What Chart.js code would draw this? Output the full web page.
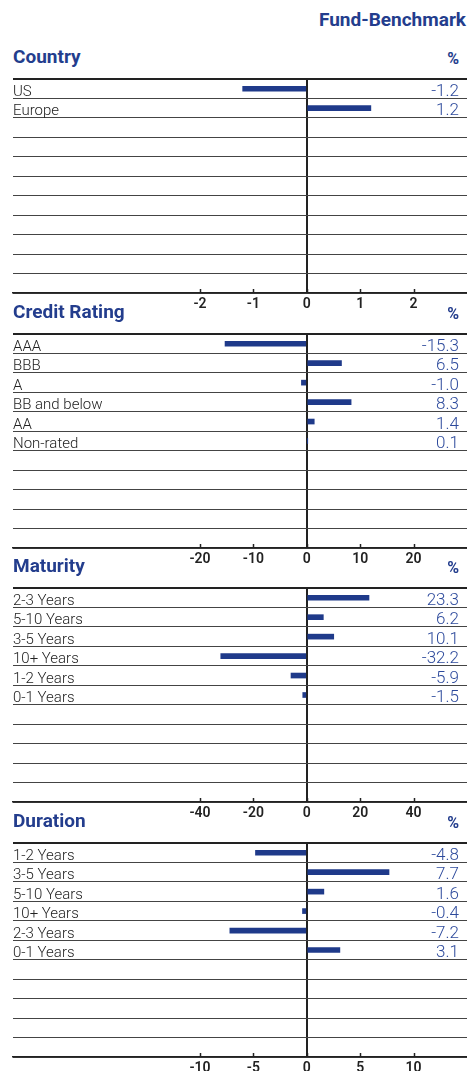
<!DOCTYPE html>
<html>
<head>
<meta charset="utf-8">
<script src="https://cdn.jsdelivr.net/npm/chart.js@4/dist/chart.umd.min.js"></script>
<style>
  html, body { margin: 0; padding: 0; background: #fff; }
  body { width: 470px; height: 1071px; overflow: hidden; position: relative; font-family: Roboto, "Noto Sans", sans-serif; }
  .head { position: absolute; color: #233d8d; font-weight: 700; line-height: 19px; white-space: nowrap; }
  .title { left: 13px; font-size: 19px; }
  .pct { right: 11px; font-size: 16px; }
  .fb { right: 4px; top: 10px; font-size: 19px; }
  canvas { position: absolute; left: 0; }
</style>
</head>
<body>
<div class="head fb">Fund-Benchmark</div>

<script>
// Panel data: Fund minus Benchmark, in %
const ROWS = 11;

const countryLabels = ['US', 'Europe'];
const countryValues = [-1.2, 1.2];
const countryTicks = [-2, -1, 0, 1, 2];

const creditLabels = ['AAA', 'BBB', 'A', 'BB and below', 'AA', 'Non-rated'];
const creditValues = [-15.3, 6.5, -1.0, 8.3, 1.4, 0.1];
const creditTicks = [-20, -10, 0, 10, 20];

const maturityLabels = ['2-3 Years', '5-10 Years', '3-5 Years', '10+ Years', '1-2 Years', '0-1 Years'];
const maturityValues = [23.3, 6.2, 10.1, -32.2, -5.9, -1.5];
const maturityTicks = [-40, -20, 0, 20, 40];

const durationLabels = ['1-2 Years', '3-5 Years', '5-10 Years', '10+ Years', '2-3 Years', '0-1 Years'];
const durationValues = [-4.8, 7.7, 1.6, -0.4, -7.2, 3.1];
const durationTicks = [-10, -5, 0, 5, 10];

const panels = [
  { title: 'Country', labels: countryLabels, values: countryValues, ticks: countryTicks },
  { title: 'Credit Rating', labels: creditLabels, values: creditValues, ticks: creditTicks },
  { title: 'Maturity', labels: maturityLabels, values: maturityValues, ticks: maturityTicks },
  { title: 'Duration', labels: durationLabels, values: durationValues, ticks: durationTicks }
];

const NAVY = '#1f3a8a';
const FONT = 'Roboto, "Noto Sans", sans-serif';

// Row labels on the left, values on the right, small tick marks on the axis
const rowTextPlugin = {
  id: 'rowText',
  afterDraw(chart) {
    const ctx = chart.ctx;
    const area = chart.chartArea;
    const y = chart.scales.y;
    const x = chart.scales.x;
    const p = chart.options.plugins.rowText;

    ctx.save();
    ctx.textBaseline = 'alphabetic';
    p.labels.forEach((label, i) => {
      const py = y.getPixelForValue(i) + 7;
      ctx.font = '300 15px ' + FONT;
      ctx.fillStyle = '#222';
      ctx.textAlign = 'left';
      ctx.fillText(label, area.left, py);
      if (p.values[i] != null) {
        ctx.font = '300 17px ' + FONT;
        ctx.fillStyle = '#2d4a9c';
        ctx.textAlign = 'right';
        ctx.fillText(p.values[i].toFixed(1), area.right - 8, py);
      }
    });

    ctx.strokeStyle = '#222';
    ctx.lineWidth = 1.5;
    x.ticks.forEach(t => {
      const px = Math.round(x.getPixelForValue(t.value)) + 0.5;
      ctx.beginPath();
      ctx.moveTo(px, area.bottom);
      ctx.lineTo(px, area.bottom - 4);
      ctx.stroke();
    });
    ctx.restore();
  }
};

function createPanel(panel, index) {
  const top = Math.round(79 + index * 254.5);

  const title = document.createElement('div');
  title.className = 'head title';
  title.style.top = (top - 32) + 'px';
  title.textContent = panel.title;
  document.body.appendChild(title);

  const pct = document.createElement('div');
  pct.className = 'head pct';
  pct.style.top = (top - 30) + 'px';
  pct.textContent = '%';
  document.body.appendChild(pct);

  const canvas = document.createElement('canvas');
  canvas.width = 470;
  canvas.height = 250;
  canvas.style.top = (top - 10) + 'px';
  document.body.appendChild(canvas);

  const rowLabels = [];
  const rowValues = [];
  for (let i = 0; i < ROWS; i++) {
    rowLabels.push(panel.labels[i] || '');
    rowValues.push(i < panel.values.length ? panel.values[i] : null);
  }

  const step = panel.ticks[1] - panel.ticks[0];

  return new Chart(canvas, {
    type: 'bar',
    data: {
      labels: rowLabels,
      datasets: [{
        data: rowValues,
        backgroundColor: NAVY,
        barThickness: 5
      }]
    },
    options: {
      indexAxis: 'y',
      responsive: false,
      animation: false,
      devicePixelRatio: 1,
      layout: { padding: { left: 13, right: 3, top: 10, bottom: 0 } },
      plugins: {
        legend: { display: false },
        tooltip: { enabled: false },
        rowText: { labels: rowLabels, values: rowValues }
      },
      scales: {
        x: {
          min: -5.5 * step,
          max: 3 * step,
          afterBuildTicks: scale => {
            scale.ticks = panel.ticks.map(v => ({ value: v }));
          },
          afterFit: scale => { scale.height = 26; },
          grid: {
            drawTicks: false,
            color: c => (c.tick && c.tick.value === 0 ? '#222' : 'rgba(0,0,0,0)'),
            lineWidth: c => (c.tick && c.tick.value === 0 ? 2 : 0)
          },
          border: { display: true, color: '#222', width: 1.5 },
          ticks: {
            padding: 3,
            color: '#222',
            font: { family: FONT, size: 14, weight: '600' }
          }
        },
        y: {
          afterFit: scale => { scale.width = 0; },
          grid: {
            offset: true,
            drawTicks: false,
            color: c => (c.index === 0 ? '#222' : '#444'),
            lineWidth: c => (c.index === 0 ? 2 : 1)
          },
          border: { display: false },
          ticks: { display: false }
        }
      }
    },
    plugins: [rowTextPlugin]
  });
}

panels.forEach(createPanel);
</script>
</body>
</html>
